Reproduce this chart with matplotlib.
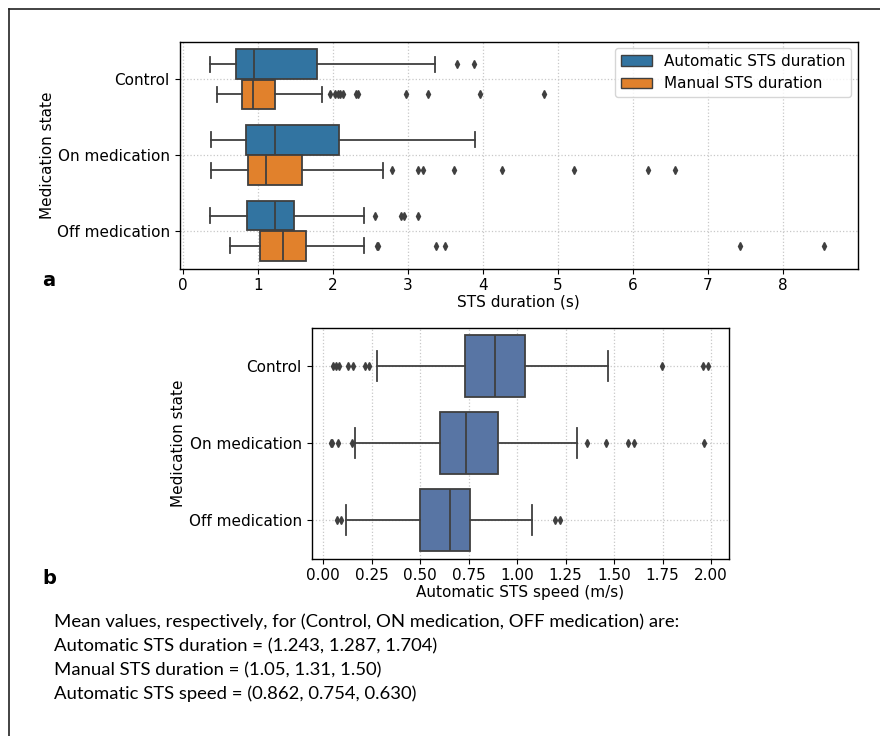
import numpy as np
import matplotlib.pyplot as plt
from matplotlib.lines import Line2D
from matplotlib.patches import Patch

plt.rcParams['font.family'] = ['DejaVu Sans']

states = ["Control", "On medication", "Off medication"]

# box summaries: (whislo, q1, med, q3, whishi)
auto_dur = [(0.36, 0.70, 0.94, 1.78, 3.36),
            (0.37, 0.84, 1.23, 2.08, 3.89),
            (0.36, 0.85, 1.23, 1.48, 2.41)]
auto_dur_out = [[3.65, 3.88],
                [],
                [2.56, 2.91, 2.94, 3.13]]
manual_dur = [(0.45, 0.78, 0.93, 1.23, 1.85),
              (0.37, 0.87, 1.10, 1.59, 2.66),
              (0.63, 1.02, 1.33, 1.64, 2.41)]
manual_dur_out = [[1.96, 2.03, 2.06, 2.09, 2.13, 2.31, 2.33, 2.97, 3.27, 3.96, 4.82],
                  [2.78, 3.14, 3.20, 3.61, 4.26, 5.21, 6.21, 6.57],
                  [2.58, 2.60, 3.38, 3.49, 7.43, 8.55]]

auto_speed = [(0.277, 0.730, 0.886, 1.042, 1.471),
              (0.165, 0.601, 0.737, 0.903, 1.311),
              (0.120, 0.500, 0.656, 0.755, 1.078)]
auto_speed_out = [[0.052, 0.064, 0.081, 0.126, 0.155, 0.215, 0.237, 1.746, 1.960, 1.985],
                  [0.038, 0.048, 0.079, 0.151, 1.360, 1.457, 1.572, 1.601, 1.964],
                  [0.071, 0.093, 1.195, 1.222]]

mean_auto_dur = [1.243, 1.287, 1.704]
mean_manual_dur = [1.05, 1.31, 1.50]
mean_auto_speed = [0.862, 0.754, 0.630]

line_col = "#3f3f3f"


def stats(summ, outs):
    res = []
    for s, o in zip(summ, outs):
        res.append(dict(whislo=s[0], q1=s[1], med=s[2], q3=s[3], whishi=s[4], fliers=o))
    return res


def draw(ax, summ, outs, pos, width, color):
    ax.bxp(stats(summ, outs), positions=pos, widths=width, vert=False,
           patch_artist=True, manage_ticks=False,
           boxprops=dict(facecolor=color, edgecolor=line_col, linewidth=1.3),
           medianprops=dict(color=line_col, linewidth=1.3),
           whiskerprops=dict(color=line_col, linewidth=1.3),
           capprops=dict(color=line_col, linewidth=1.3),
           flierprops=dict(marker="d", markerfacecolor=line_col, markeredgecolor=line_col,
                           markersize=4, linestyle="none"))


def style(ax):
    ax.grid(True, linestyle=":", color="#c8c8c8", linewidth=0.9)
    ax.set_axisbelow(True)
    ax.tick_params(labelsize=11)
    for sp in ax.spines.values():
        sp.set_color("black")
        sp.set_linewidth(1.0)


fig = plt.figure(figsize=(8.8, 7.36), dpi=100)

# panel a
ax1 = fig.add_axes([179.5 / 880, 1 - 268.5 / 736, 678 / 880, 227 / 736])
y = np.arange(len(states))
draw(ax1, auto_dur, auto_dur_out, y - 0.2, 0.39, "#3274a1")
draw(ax1, manual_dur, manual_dur_out, y + 0.2, 0.39, "#e1812c")
ax1.set_ylim(2.5, -0.5)
ax1.set_xlim(-0.05, 9.0)
ax1.set_yticks(y)
ax1.set_yticklabels(states)
ax1.set_xticks(range(0, 9))
ax1.set_xlabel("STS duration (s)", fontsize=11, labelpad=1)
ax1.set_ylabel("Medication state", fontsize=11, labelpad=1)
style(ax1)
handles = [Patch(facecolor="#3274a1", edgecolor=line_col, label="Automatic STS duration"),
           Patch(facecolor="#e1812c", edgecolor=line_col, label="Manual STS duration")]
ax1.legend(handles=handles, loc="upper right", fontsize=11, framealpha=0.8,
           borderaxespad=0.4)

# panel b
ax2 = fig.add_axes([311.5 / 880, 1 - 558.5 / 736, 417 / 880, 231 / 736])
draw(ax2, auto_speed, auto_speed_out, y, 0.8, "#5875a4")
ax2.set_ylim(2.5, -0.5)
ax2.set_xlim(-0.06, 2.09)
ax2.set_yticks(y)
ax2.set_yticklabels(states)
ax2.set_xticks(np.arange(0, 2.01, 0.25))
ax2.set_xticklabels([f"{v:.2f}" for v in np.arange(0, 2.01, 0.25)])
ax2.set_xlabel("Automatic STS speed (m/s)", fontsize=11, labelpad=1)
ax2.set_ylabel("Medication state", fontsize=11, labelpad=2)
style(ax2)

fig.text(42 / 880, 1 - 280 / 736, "a", fontsize=14, fontweight="bold", va="center")
fig.text(42 / 880, 1 - 578 / 736, "b", fontsize=14, fontweight="bold", va="center")

# outer frame (left and top only)
fig.add_artist(Line2D([9 / 880, 9 / 880], [0, 1 - 9 / 736], transform=fig.transFigure,
                      color="#222222", linewidth=1.2))
fig.add_artist(Line2D([9 / 880, 1], [1 - 9 / 736, 1 - 9 / 736], transform=fig.transFigure,
                      color="#222222", linewidth=1.2))

caption = [
    "Mean values, respectively, for (Control, ON medication, OFF medication) are:",
    "Automatic STS duration = (" + ", ".join(f"{v:.3f}" for v in mean_auto_dur) + ")",
    "Manual STS duration = (" + ", ".join(f"{v:.2f}" for v in mean_manual_dur) + ")",
    "Automatic STS speed = (" + ", ".join(f"{v:.3f}" for v in mean_auto_speed) + ")",
]
for i, line in enumerate(caption):
    fig.text(54 / 880, 1 - (622 + 24 * i) / 736, line, fontsize=13.3, family="Lato",
             va="center")

fig.savefig("out.png", dpi=100)
